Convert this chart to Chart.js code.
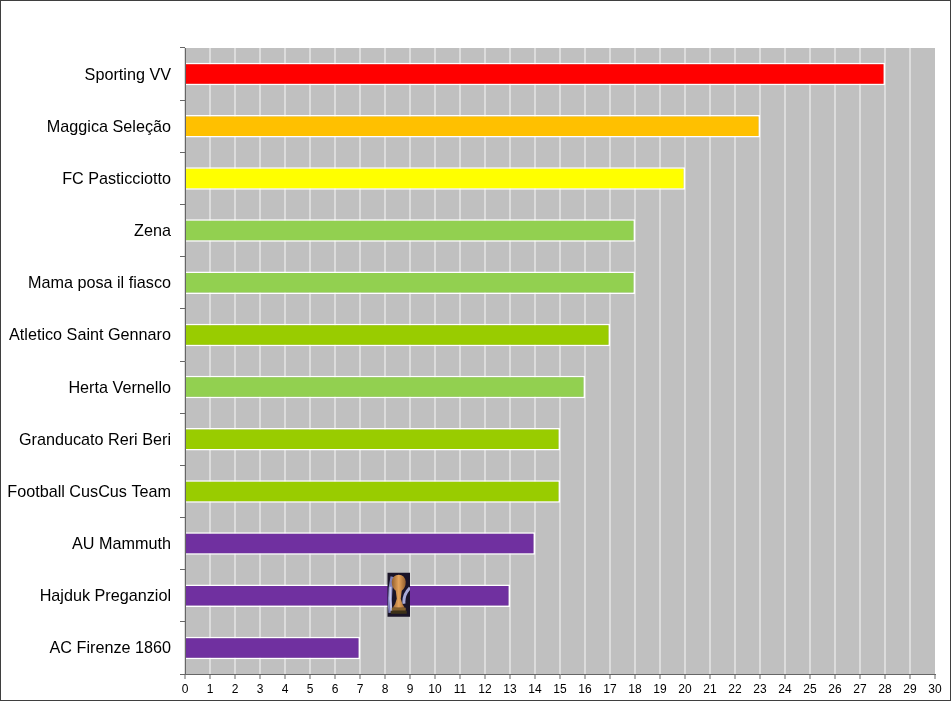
<!DOCTYPE html>
<html>
<head>
<meta charset="utf-8">
<style>
html,body{margin:0;padding:0;background:#fff;overflow:hidden}
#wrap{width:951px;height:701px;position:relative}
#wrap:after{content:"";position:absolute;left:0;top:0;right:0;bottom:0;box-sizing:border-box;border:1px solid #3f3f3f;pointer-events:none}
canvas{display:block}
</style>
<script src="https://cdn.jsdelivr.net/npm/chart.js@4/dist/chart.umd.min.js"></script>
</head>
<body>
<div id="wrap"><canvas id="c" width="951" height="701"></canvas></div>
<script>
const categories = ["Sporting VV","Maggica Seleção","FC Pasticciotto","Zena","Mama posa il fiasco","Atletico Saint Gennaro","Herta Vernello","Granducato Reri Beri","Football CusCus Team","AU Mammuth","Hajduk Preganziol","AC Firenze 1860"];
const points = [28,23,20,18,18,17,16,15,15,14,13,7];
const barColors = ["#ff0000","#ffc000","#ffff00","#92d050","#92d050","#99cc00","#92d050","#99cc00","#99cc00","#7030a0","#7030a0","#7030a0"];
const trophyCategory = "Hajduk Preganziol";
const trophyFrom = 8.1, trophyTo = 9;

const plotBg = {
  id:"plotBg",
  beforeDraw(chart){
    const {ctx,chartArea:a}=chart;
    ctx.save();ctx.fillStyle="#c0c0c0";ctx.fillRect(a.left,a.top,a.width,a.height);ctx.restore();
  }
};
const trophy = {
  id:"trophy",
  afterDatasetsDraw(chart){
    const {ctx,scales:{x,y}}=chart;
    const l=x.getPixelForValue(trophyFrom), r=x.getPixelForValue(trophyTo), cy=y.getPixelForValue(categories.indexOf(trophyCategory))-1;
    const w=r-l, h=44, t=cy-h/2, cx=l+w/2;
    ctx.save();
    ctx.fillStyle="#1a1428";ctx.fillRect(l,t,w,h);
    ctx.beginPath();ctx.rect(l,t,w,h);ctx.clip();
    ctx.strokeStyle="#7f80b8";ctx.lineWidth=4;
    ctx.beginPath();ctx.moveTo(l+5,t+4);ctx.quadraticCurveTo(l+1,t+22,l+3,t+40);ctx.stroke();
    ctx.strokeStyle="#c6c8ea";ctx.lineWidth=2;
    ctx.beginPath();ctx.moveTo(l+3,t+14);ctx.quadraticCurveTo(l+2,t+26,l+4,t+38);ctx.stroke();
    ctx.strokeStyle="#a9abd8";ctx.lineWidth=3;
    ctx.beginPath();ctx.moveTo(r,t+15);ctx.quadraticCurveTo(r-7,t+22,r-6,t+31);ctx.stroke();
    const g=ctx.createLinearGradient(l,t,r,t);
    g.addColorStop(0,"#5f3410");g.addColorStop(.5,"#e6a45c");g.addColorStop(1,"#5f3410");
    ctx.fillStyle=g;
    ctx.beginPath();
    ctx.moveTo(cx-7,t+9);
    ctx.quadraticCurveTo(cx-6,t+2,cx,t+2);
    ctx.quadraticCurveTo(cx+6,t+2,cx+7,t+9);
    ctx.quadraticCurveTo(cx+7,t+15,cx+3,t+18);
    ctx.lineTo(cx+2,t+26);ctx.quadraticCurveTo(cx+3,t+31,cx+6,t+35);
    ctx.lineTo(cx-6,t+35);ctx.quadraticCurveTo(cx-3,t+31,cx-2,t+26);
    ctx.lineTo(cx-3,t+18);ctx.quadraticCurveTo(cx-7,t+15,cx-7,t+9);
    ctx.fill();
    ctx.fillStyle="#84602c";ctx.fillRect(cx-7,t+35,14,3);
    ctx.fillStyle="#3c3018";ctx.fillRect(cx-8,t+38,16,3);
    ctx.restore();
  }
};

new Chart(document.getElementById("c"),{
  type:"bar",
  data:{labels:categories,datasets:[{data:points,backgroundColor:barColors,borderColor:"#ffffff",borderWidth:1.5,borderSkipped:"left",barPercentage:0.43,categoryPercentage:1}]},
  plugins:[plotBg,trophy],
  options:{
    indexAxis:"y",responsive:false,animation:false,devicePixelRatio:1,
    layout:{padding:{left:0,top:48,right:16,bottom:0}},
    plugins:{legend:{display:false},title:{display:false},tooltip:{enabled:false}},
    scales:{
      x:{
        type:"linear",min:0,max:30,
        afterFit(s){s.height=27;},
        ticks:{stepSize:1,autoSkip:false,maxRotation:0,color:"#000",padding:3,font:{family:"Liberation Sans",size:12}},
        grid:{color:c=>c.tick&&c.tick.value===30?"rgba(0,0,0,0)":"#dcdcdc",lineWidth:2,tickColor:"#666",tickLength:5,tickWidth:1},
        border:{color:"#666",width:1}
      },
      y:{
        afterFit(s){s.width=185;},
        ticks:{autoSkip:false,color:"#000",padding:9,labelOffset:1,font:{family:"Liberation Sans",size:16.2}},
        grid:{offset:true,drawOnChartArea:false,tickColor:"#666",tickLength:5,tickWidth:1},
        border:{color:"#666",width:1}
      }
    }
  }
});
</script>
</body>
</html>
